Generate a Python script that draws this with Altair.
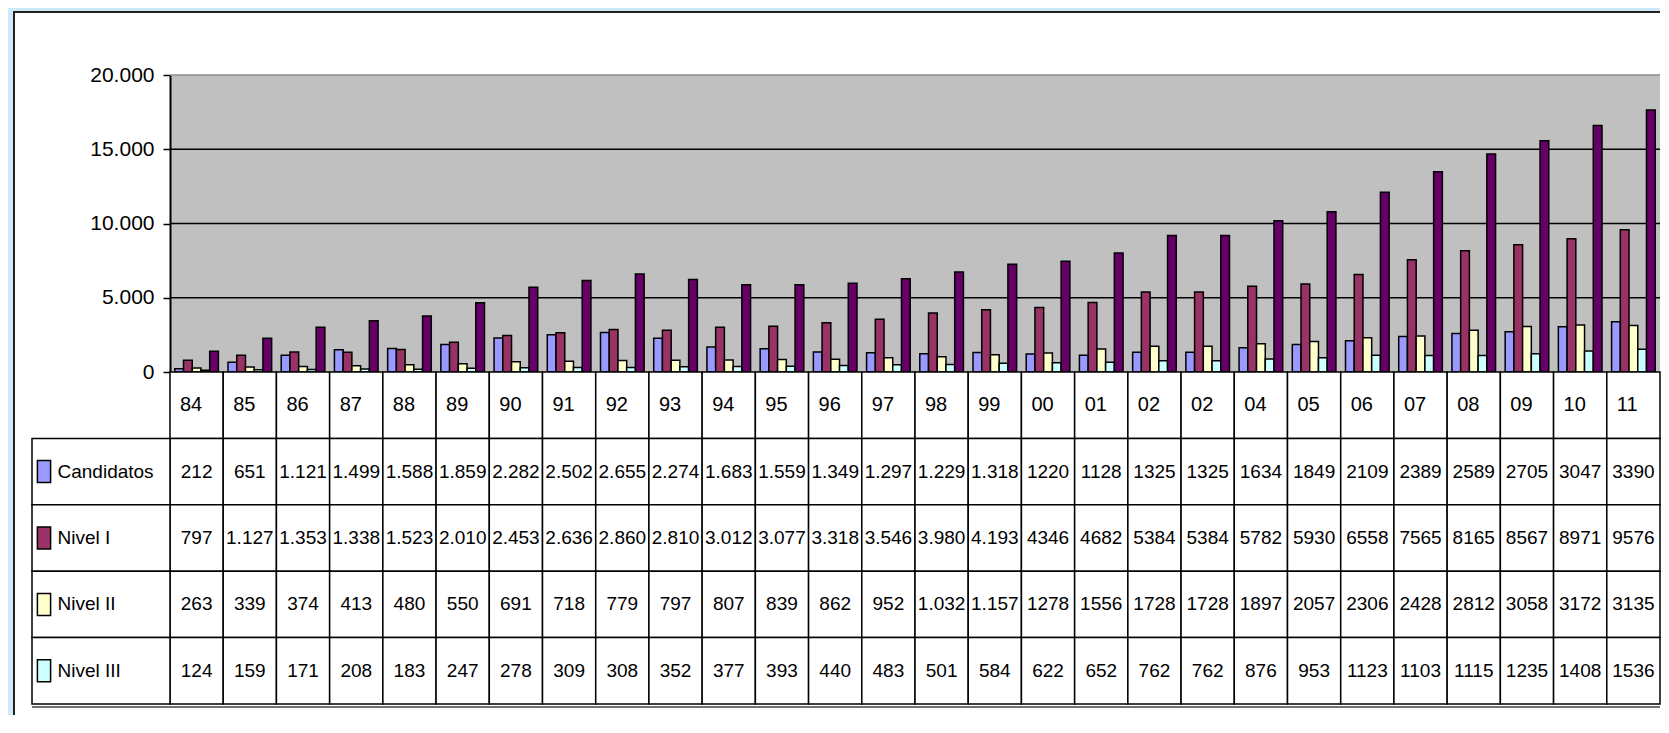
import altair as alt
import pandas as pd

years = ["84", "85", "86", "87", "88", "89", "90", "91", "92", "93", "94", "95", "96", "97",
         "98", "99", "00", "01", "02", "02", "04", "05", "06", "07", "08", "09", "10", "11"]
candidatos = [212, 651, 1121, 1499, 1588, 1859, 2282, 2502, 2655, 2274, 1683, 1559, 1349, 1297,
              1229, 1318, 1220, 1128, 1325, 1325, 1634, 1849, 2109, 2389, 2589, 2705, 3047, 3390]
nivel1 = [797, 1127, 1353, 1338, 1523, 2010, 2453, 2636, 2860, 2810, 3012, 3077, 3318, 3546,
          3980, 4193, 4346, 4682, 5384, 5384, 5782, 5930, 6558, 7565, 8165, 8567, 8971, 9576]
nivel2 = [263, 339, 374, 413, 480, 550, 691, 718, 779, 797, 807, 839, 862, 952,
          1032, 1157, 1278, 1556, 1728, 1728, 1897, 2057, 2306, 2428, 2812, 3058, 3172, 3135]
nivel3 = [124, 159, 171, 208, 183, 247, 278, 309, 308, 352, 377, 393, 440, 483,
          501, 584, 622, 652, 762, 762, 876, 953, 1123, 1103, 1115, 1235, 1408, 1536]
total = [1396, 2276, 3019, 3458, 3774, 4666, 5704, 6165, 6602, 6233, 5879, 5868, 5969, 6278,
         6742, 7252, 7466, 8018, 9199, 9199, 10189, 10789, 12096, 13485, 14681, 15565, 16598, 17637]
dotted_cols = 16  # columns written with "." thousands separator in the table

series = ["Candidatos", "Nivel I", "Nivel II", "Nivel III", "Total"]
colors = ["#9999FF", "#993366", "#FFFFCC", "#CCFFFF", "#660066"]
table_rows = ["hdr", "Candidatos", "Nivel I", "Nivel II", "Nivel III"]
y_ticks = [0, 5000, 10000, 15000, 20000]
grid_vals = [5000, 10000, 15000, 20000]
grid_cols = ["#000000", "#000000", "#000000", "#8c8c8c"]

FONT = "Liberation Sans, Arial, sans-serif"
FS = 19
W = 1490
H = 297
TH = 332

values = [candidatos, nivel1, nivel2, nivel3, total]
bars_df = pd.DataFrame([
    {"col": i, "serie": s, "value": v[i]}
    for s, v in zip(series, values) for i in range(len(years))
])


def fmt(v, i):
    return f"{v:,}".replace(",", ".") if i < dotted_cols else str(v)


cells = []
for i, y in enumerate(years):
    cells.append({"col": i, "row": "hdr", "txt": y})
    for s, v in zip(series[:4], values[:4]):
        cells.append({"col": i, "row": s, "txt": fmt(v[i], i)})
cells_df = pd.DataFrame(cells)
rows_df = pd.DataFrame({"row": series[:4]})
grid_df = pd.DataFrame({"value": grid_vals, "c": grid_cols})
one = pd.DataFrame({"a": [0]})

# ---------------- top chart (bars) ----------------
ysc = alt.Scale(domain=[0, 20000], nice=False)
xA = alt.X("col:O", scale=alt.Scale(paddingInner=0.18, paddingOuter=0.09), axis=None)

grid = alt.Chart(grid_df).mark_rule(strokeWidth=1.5).encode(
    y=alt.Y("value:Q", scale=ysc),
    color=alt.Color("c:N", scale=None),
)

bars = alt.Chart(bars_df).mark_bar(stroke="black", strokeWidth=1.5).encode(
    x=xA,
    xOffset=alt.XOffset("serie:N", sort=series),
    y=alt.Y("value:Q", scale=ysc,
            axis=alt.Axis(values=y_ticks, grid=False, title=None,
                          labelExpr="replace(format(datum.value, ','), ',', '.')",
                          domainColor="black", domainWidth=2, tickColor="black",
                          tickSize=7, tickWidth=1.5, labelPadding=9,
                          labelFont=FONT, labelFontSize=21, labelColor="black")),
    color=alt.Color("serie:N", scale=alt.Scale(domain=series, range=colors), legend=None),
)

strip_top = alt.Chart(one).mark_rect(color="#CDE9F7").encode(
    x=alt.value(-162), x2=alt.value("width"), y=alt.value(-67), y2=alt.value(-64))
strip_left = alt.Chart(one).mark_rect(color="#CDE9F7").encode(
    x=alt.value(-162), x2=alt.value(-157), y=alt.value(-67), y2=alt.value(640))
border_top = alt.Chart(one).mark_rule(color="#222222", strokeWidth=2).encode(
    x=alt.value(-157), x2=alt.value("width"), y=alt.value(-63))
border_left = alt.Chart(one).mark_rule(color="#222222", strokeWidth=2).encode(
    x=alt.value(-156), y=alt.value(-64), y2=alt.value(640))

top = alt.layer(strip_top, strip_left, border_top, border_left, grid, bars).properties(
    width=W, height=H, view=alt.ViewBackground(fill="#C0C0C0", stroke=None))

# ---------------- table ----------------
xB = alt.X("col:O", scale=alt.Scale(paddingInner=0, paddingOuter=0), axis=None)
yB = alt.Y("row:N", sort=table_rows, scale=alt.Scale(domain=table_rows, paddingInner=0, paddingOuter=0),
           axis=alt.Axis(title=None, domain=False, ticks=False, labelAlign="left",
                         labelPadding=113, labelFont=FONT, labelFontSize=FS,
                         labelColor="black", labelLimit=300,
                         labelExpr="datum.value == 'hdr' ? '' : datum.value"))

cell_rects = alt.Chart(cells_df).mark_rect(fill="white", stroke="black", strokeWidth=1.5).encode(
    x=xB, y=yB)

label_rects = alt.Chart(rows_df).mark_rect(fill="white", stroke="black", strokeWidth=1.5).encode(
    x=alt.value(-138), x2=alt.value(0), y=alt.Y("row:N", sort=table_rows))

bottom_line = alt.Chart(one).mark_rule(color="#444444", strokeWidth=1.5).encode(
    x=alt.value(-138), x2=alt.value("width"), y=alt.value(TH + 3))

swatch = alt.Chart(rows_df).mark_point(
    shape="M-0.6,-1L0.6,-1L0.6,1L-0.6,1Z", size=484, filled=True,
    stroke="black", strokeWidth=1.5, opacity=1).encode(
    x=alt.value(-126), y=alt.Y("row:N", sort=table_rows),
    fill=alt.Fill("row:N", scale=alt.Scale(domain=series, range=colors), legend=None))

hdr_text = alt.Chart(cells_df).transform_filter("datum.row == 'hdr'").mark_text(
    align="left", baseline="middle", dx=10, font=FONT, fontSize=20, color="black").encode(
    x=alt.X("col:O", bandPosition=0), y=alt.Y("row:N", sort=table_rows), text="txt:N")

num_text = alt.Chart(cells_df).transform_filter("datum.row != 'hdr'").mark_text(
    align="center", baseline="middle", font=FONT, fontSize=FS, color="black").encode(
    x=alt.X("col:O"), y=alt.Y("row:N", sort=table_rows), text="txt:N")

table = alt.layer(cell_rects, label_rects, bottom_line, swatch, hdr_text, num_text).properties(
    width=W, height=TH, view=alt.ViewBackground(fill="white", stroke=None))

chart = alt.vconcat(top, table, spacing=0, bounds="flush").properties(
    padding={"left": 0, "top": 0, "right": 0, "bottom": 0}, background="white"
).configure_view(stroke=None)

chart.save("out.html", embed_options={"renderer": "svg", "actions": False})
